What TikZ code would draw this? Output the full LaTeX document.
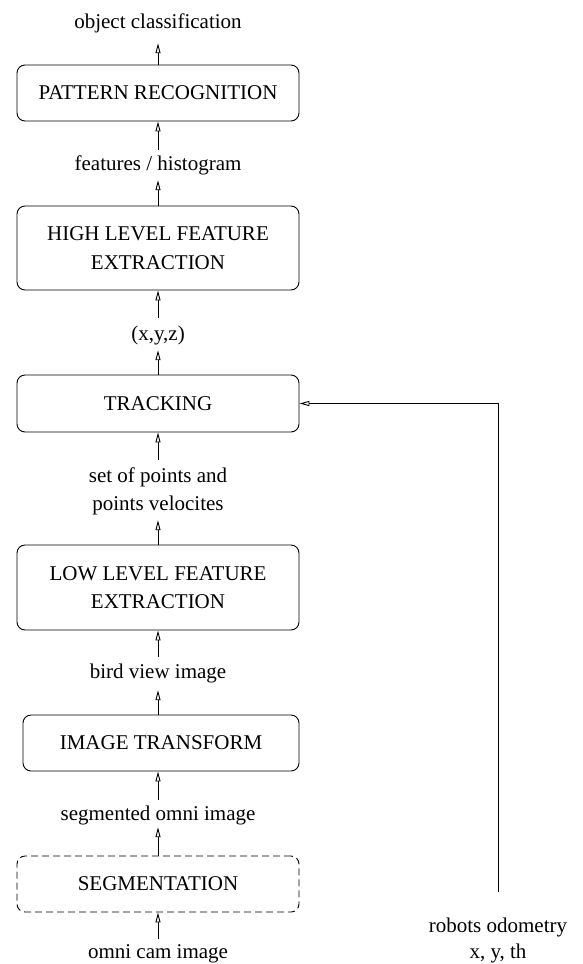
\documentclass[tikz,border=0pt]{standalone}
\usepackage{fontspec}
\setmainfont{Liberation Serif}
\usetikzlibrary{arrows.meta}

\tikzset{
  every node/.style={font=\fontsize{21}{28.5}\selectfont},
  stage/.style={draw, rounded corners=8pt, line width=0.9pt,
    minimum width=282pt, minimum height=56pt, inner sep=0pt, align=center},
  lbl/.style={inner sep=0pt, text height=14.5pt, text depth=4.5pt, anchor=base},
  flow/.style={line width=0.9pt, -{Triangle[open,length=10pt,width=5pt]}},
}

\begin{document}
\begin{tikzpicture}[x=1pt,y=-1pt]
\useasboundingbox (0,0) rectangle (582,964);

% processing stages
\node[stage] (pr)  at (158,93)    {PATTERN RECOGNITION};
\node[stage, minimum height=84pt] (hl) at (158,248) {HIGH LEVEL FEATURE\\EXTRACTION};
\node[stage, minimum height=57pt] (tr) at (158,403.5) {TRACKING};
\node[stage, minimum height=85pt] (ll) at (158,587.5) {LOW LEVEL FEATURE\\EXTRACTION};
\node[stage, minimum width=276pt] (it) at (161,743) {IMAGE TRANSFORM};
\node[stage, dash pattern=on 7pt off 4pt] (seg) at (158,884) {SEGMENTATION};

% data passed between stages
\node[lbl] (obj)   at (158,28)  {object classification};
\node[lbl] (feat)  at (158,170) {features / histogram};
\node[lbl] (xyz)   at (158,340) {(x,y,z)};
\node[lbl] (pts)   at (158,482) {set of points and};
\node[lbl] (vel)   at (158,510) {points velocites};
\node[lbl] (bird)  at (158,678) {bird view image};
\node[lbl] (somni) at (158,820) {segmented omni image};
\node[lbl] (cam)   at (158,958.5) {omni cam image};
\node[lbl] (odo)   at (498,932) {robots odometry};
\node[lbl] (odoxy) at (498,958.5) {x, y, th};

% upward data flow
\draw[flow, shorten >=10.5pt] (pr.north) -- (obj.south);
\draw[flow, shorten <=5.5pt] (feat.north) -- (pr.south);
\draw[flow, shorten >=5.5pt] (hl.north) -- (feat.south);
\draw[flow, shorten <=7.5pt] (xyz.north) -- (hl.south);
\draw[flow, shorten >=5.5pt] (tr.north) -- (xyz.south);
\draw[flow, shorten <=7.5pt] (pts.north) -- (tr.south);
\draw[flow, shorten >=5.5pt] (ll.north) -- (vel.south);
\draw[flow, shorten <=6.5pt] (bird.north) -- (ll.south);
\draw[flow, shorten >=7.5pt] (it.north -| bird.south) -- (bird.south);
\draw[flow, shorten <=5.5pt] (somni.north) -- (it.south -| somni.north);
\draw[flow, shorten >=2.5pt] (seg.north) -- (somni.south);
\draw[flow, shorten <=5pt] (cam.north) -- (seg.south);

% odometry feed into tracking
\draw[flow, shorten <=25.5pt] (odo.north) |- (tr.east);
\end{tikzpicture}
\end{document}
